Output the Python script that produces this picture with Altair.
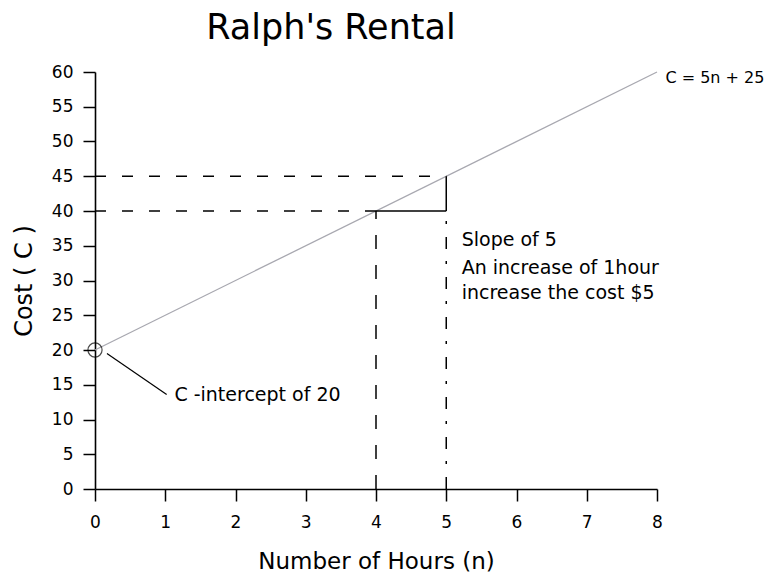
import altair as alt
import pandas as pd

# main cost line
line_n = [0, 8]
line_c = [20, 60]

# dashed guide segments
dash_h_x1 = [0, 0]
dash_h_y = [45, 40]
dash_h_x2 = [5, 4]

dash_v4_x = [4]
dash_v4_y1 = [0]
dash_v4_y2 = [40]

dash_v5_x = [5]
dash_v5_y1 = [0]
dash_v5_y2 = [40]

# slope triangle (solid)
tri_x1 = [4, 5]
tri_y1 = [40, 40]
tri_x2 = [5, 5]
tri_y2 = [40, 45]

# intercept marker and leader
icpt_n = [0]
icpt_c = [20]
leader_x1 = [0.17]
leader_y1 = [19.5]
leader_x2 = [1.02]
leader_y2 = [13.6]

# annotations
eq_text = ["C = 5n + 25"]
eq_x = [8.12]
eq_y = [59.1]

ann_text = ["C -intercept of 20", "Slope of 5",
            "An increase of 1hour", "increase the cost $5"]
ann_x = [1.13, 5.22, 5.22, 5.22]
ann_y = [13.5, 35.8, 31.8, 28.2]

x_ticks = [0, 1, 2, 3, 4, 5, 6, 7, 8]
y_ticks = list(range(0, 61, 5))

FONT = "DejaVu Sans"

xs = alt.Scale(domain=[0, 8], nice=False, zero=False)
ys = alt.Scale(domain=[0, 60], nice=False, zero=False)

x_axis = alt.Axis(values=x_ticks, format="d", title="Number of Hours (n)", grid=False,
                  tickSize=12, labelPadding=13, titlePadding=20, labelOverlap=False,
                  labelFlush=False, titleFontSize=23)
y_axis = alt.Axis(values=y_ticks, format="d", title="Cost ( C )", grid=False,
                  tickSize=12, labelPadding=10, titlePadding=15, labelOverlap=False,
                  labelFlush=False)


def X(f):
    return alt.X(f, type="quantitative", scale=xs, axis=x_axis)


def Y(f):
    return alt.Y(f, type="quantitative", scale=ys, axis=y_axis)


df_line = pd.DataFrame({"n": line_n, "c": line_c})
base_line = alt.Chart(df_line).mark_line(color="#a8a8b0", strokeWidth=1.3).encode(
    x=X("n"), y=Y("c"),
)

df_h = pd.DataFrame({"x1": dash_h_x1, "y": dash_h_y, "x2": dash_h_x2})
h_rules = alt.Chart(df_h).mark_rule(color="black", strokeWidth=1.5, strokeDash=[11, 16]).encode(
    x=X("x1"), x2="x2:Q", y=Y("y")
)

df_v4 = pd.DataFrame({"x": dash_v4_x, "y1": dash_v4_y1, "y2": dash_v4_y2})
v4_rule = alt.Chart(df_v4).mark_rule(color="black", strokeWidth=1.5, strokeDash=[14, 16]).encode(
    x=X("x"), y=Y("y1"), y2="y2:Q"
)

df_v5 = pd.DataFrame({"x": dash_v5_x, "y1": dash_v5_y1, "y2": dash_v5_y2})
v5_rule = alt.Chart(df_v5).mark_rule(color="black", strokeWidth=1.5, strokeDash=[12, 13, 3, 12]).encode(
    x=X("x"), y=Y("y1"), y2="y2:Q"
)

df_tri = pd.DataFrame({"x1": tri_x1, "y1": tri_y1, "x2": tri_x2, "y2": tri_y2})
tri = alt.Chart(df_tri).mark_rule(color="black", strokeWidth=1.5).encode(
    x=X("x1"), y=Y("y1"), x2="x2:Q", y2="y2:Q"
)

df_icpt = pd.DataFrame({"n": icpt_n, "c": icpt_c})
icpt = alt.Chart(df_icpt).mark_point(shape="circle", size=200, filled=False,
                                     color="black", strokeWidth=1.2).encode(
    x=X("n"), y=Y("c")
)

df_lead = pd.DataFrame({"x1": leader_x1, "y1": leader_y1, "x2": leader_x2, "y2": leader_y2})
lead = alt.Chart(df_lead).mark_rule(color="black", strokeWidth=1.2).encode(
    x=X("x1"), y=Y("y1"), x2="x2:Q", y2="y2:Q"
)

df_ann = pd.DataFrame({"t": ann_text, "x": ann_x, "y": ann_y})
ann = alt.Chart(df_ann).mark_text(align="left", baseline="middle", fontSize=19,
                                  font=FONT, color="black").encode(
    x=X("x"), y=Y("y"), text="t:N"
)

df_eq = pd.DataFrame({"t": eq_text, "x": eq_x, "y": eq_y})
eq = alt.Chart(df_eq).mark_text(align="left", baseline="middle", fontSize=16,
                                font=FONT, color="black").encode(
    x=X("x"), y=Y("y"), text="t:N"
)

chart = alt.layer(base_line, h_rules, v4_rule, v5_rule, tri, lead, icpt, ann, eq).properties(
    width=562,
    height=417,
    title=alt.TitleParams("Ralph's Rental", fontSize=35, font=FONT, fontWeight="normal",
                          anchor="middle", dx=-45, dy=37, offset=26, baseline="alphabetic",
                          color="black"),
    padding={"left": 87, "top": 64, "right": 112, "bottom": 85},
    autosize=alt.AutoSizeParams(type="none"),
).configure_view(stroke=None).configure_axis(
    domainColor="black", domainWidth=1.6, tickColor="black", tickWidth=1.5,
    labelFont=FONT, labelFontSize=17, labelColor="black",
    titleFont=FONT, titleFontSize=24, titleFontWeight="normal", titleColor="black",
)

chart.save("out.html", embed_options={"renderer": "svg", "actions": False})
